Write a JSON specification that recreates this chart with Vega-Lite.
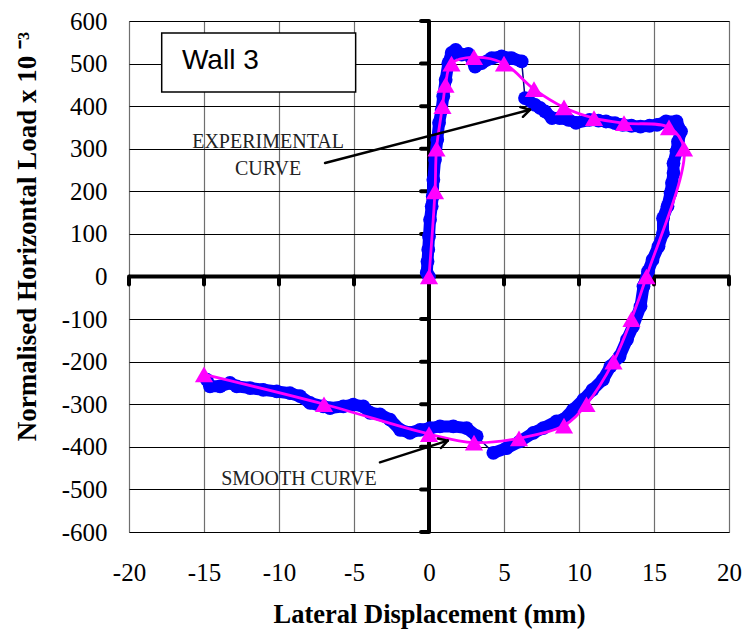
{
  "$schema": "https://vega.github.io/schema/vega-lite/v6.json",
  "width": 600,
  "height": 511,
  "autosize": {"type": "none"},
  "padding": {"left": 129, "top": 21, "right": 16, "bottom": 97},
  "background": "white",
  "config": {"view": {"stroke": "#7a7a7a", "strokeWidth": 1}},
  "datasets": {
    "axisLines": [
      {"x": -20, "x2": 20, "y": 0, "y2": 0},
      {"x": 0, "x2": 0, "y": -600, "y2": 600}
    ],
    "axisTicks": [
      {"x": -20, "x2": -20, "y": 0, "y2": -19},
      {"x": -15, "x2": -15, "y": 0, "y2": -19},
      {"x": -10, "x2": -10, "y": 0, "y2": -19},
      {"x": -5, "x2": -5, "y": 0, "y2": -19},
      {"x": 5, "x2": 5, "y": 0, "y2": -19},
      {"x": 10, "x2": 10, "y": 0, "y2": -19},
      {"x": 15, "x2": 15, "y": 0, "y2": -19},
      {"x": 20, "x2": 20, "y": 0, "y2": -19},
      {"x": 0, "x2": -0.53, "y": 600, "y2": 600},
      {"x": 0, "x2": -0.53, "y": 500, "y2": 500},
      {"x": 0, "x2": -0.53, "y": 400, "y2": 400},
      {"x": 0, "x2": -0.53, "y": 300, "y2": 300},
      {"x": 0, "x2": -0.53, "y": 200, "y2": 200},
      {"x": 0, "x2": -0.53, "y": 100, "y2": 100},
      {"x": 0, "x2": -0.53, "y": -100, "y2": -100},
      {"x": 0, "x2": -0.53, "y": -200, "y2": -200},
      {"x": 0, "x2": -0.53, "y": -300, "y2": -300},
      {"x": 0, "x2": -0.53, "y": -400, "y2": -400},
      {"x": 0, "x2": -0.53, "y": -500, "y2": -500},
      {"x": 0, "x2": -0.53, "y": -600, "y2": -600}
    ],
    "expt": [
      {"i": 1, "seg": "A", "x": 0, "y": 0},
      {"i": 2, "seg": "A", "x": -0.15, "y": 9},
      {"i": 3, "seg": "A", "x": -0.1, "y": 35},
      {"i": 4, "seg": "A", "x": -0.05, "y": 63},
      {"i": 5, "seg": "A", "x": 0, "y": 94},
      {"i": 6, "seg": "A", "x": 0.07, "y": 133},
      {"i": 7, "seg": "A", "x": 0.18, "y": 165},
      {"i": 8, "seg": "A", "x": 0.25, "y": 188},
      {"i": 9, "seg": "A", "x": 0.29, "y": 227},
      {"i": 10, "seg": "A", "x": 0.4, "y": 274},
      {"i": 11, "seg": "A", "x": 0.55, "y": 321},
      {"i": 12, "seg": "A", "x": 0.67, "y": 361},
      {"i": 13, "seg": "A", "x": 0.84, "y": 391},
      {"i": 14, "seg": "A", "x": 0.95, "y": 423},
      {"i": 15, "seg": "A", "x": 1.11, "y": 462},
      {"i": 16, "seg": "A", "x": 1.29, "y": 501},
      {"i": 17, "seg": "A", "x": 1.51, "y": 525},
      {"i": 18, "seg": "A", "x": 1.78, "y": 532},
      {"i": 19, "seg": "A", "x": 2.18, "y": 521},
      {"i": 20, "seg": "A", "x": 2.62, "y": 523},
      {"i": 21, "seg": "A", "x": 3.07, "y": 493},
      {"i": 22, "seg": "A", "x": 3.51, "y": 501},
      {"i": 23, "seg": "A", "x": 4.18, "y": 513},
      {"i": 24, "seg": "A", "x": 4.84, "y": 517},
      {"i": 25, "seg": "A", "x": 5.51, "y": 513},
      {"i": 26, "seg": "A", "x": 6.18, "y": 505},
      {"i": 27, "seg": "B", "x": 6.4, "y": 419},
      {"i": 28, "seg": "B", "x": 7.07, "y": 403},
      {"i": 29, "seg": "B", "x": 7.4, "y": 396},
      {"i": 30, "seg": "B", "x": 7.73, "y": 388},
      {"i": 31, "seg": "B", "x": 8.2, "y": 372},
      {"i": 32, "seg": "B", "x": 8.7, "y": 372},
      {"i": 33, "seg": "B", "x": 9.3, "y": 368},
      {"i": 34, "seg": "B", "x": 9.8, "y": 361},
      {"i": 35, "seg": "B", "x": 10.7, "y": 368},
      {"i": 36, "seg": "B", "x": 11.3, "y": 366},
      {"i": 37, "seg": "B", "x": 11.8, "y": 364},
      {"i": 38, "seg": "B", "x": 12.4, "y": 360},
      {"i": 39, "seg": "B", "x": 12.9, "y": 356},
      {"i": 40, "seg": "B", "x": 13.5, "y": 354},
      {"i": 41, "seg": "B", "x": 14.1, "y": 352},
      {"i": 42, "seg": "B", "x": 14.7, "y": 354},
      {"i": 43, "seg": "B", "x": 15.2, "y": 356},
      {"i": 44, "seg": "B", "x": 15.8, "y": 364},
      {"i": 45, "seg": "B", "x": 16.5, "y": 364},
      {"i": 46, "seg": "B", "x": 16.8, "y": 341},
      {"i": 47, "seg": "B", "x": 16.6, "y": 317},
      {"i": 48, "seg": "B", "x": 16.5, "y": 294},
      {"i": 49, "seg": "B", "x": 16.3, "y": 266},
      {"i": 50, "seg": "B", "x": 16.3, "y": 243},
      {"i": 51, "seg": "B", "x": 16.2, "y": 220},
      {"i": 52, "seg": "B", "x": 16.1, "y": 196},
      {"i": 53, "seg": "B", "x": 15.9, "y": 165},
      {"i": 54, "seg": "B", "x": 15.6, "y": 137},
      {"i": 55, "seg": "B", "x": 15.6, "y": 102},
      {"i": 56, "seg": "B", "x": 15.3, "y": 71},
      {"i": 57, "seg": "B", "x": 14.9, "y": 39},
      {"i": 58, "seg": "B", "x": 14.6, "y": 12},
      {"i": 59, "seg": "B", "x": 14.3, "y": -23},
      {"i": 60, "seg": "B", "x": 14.1, "y": -70},
      {"i": 61, "seg": "B", "x": 13.6, "y": -117},
      {"i": 62, "seg": "B", "x": 13.2, "y": -148},
      {"i": 63, "seg": "B", "x": 12.7, "y": -188},
      {"i": 64, "seg": "B", "x": 12.1, "y": -211},
      {"i": 65, "seg": "B", "x": 11.6, "y": -242},
      {"i": 66, "seg": "B", "x": 10.9, "y": -266},
      {"i": 67, "seg": "B", "x": 10.3, "y": -289},
      {"i": 68, "seg": "B", "x": 9.6, "y": -313},
      {"i": 69, "seg": "B", "x": 8.96, "y": -336},
      {"i": 70, "seg": "B", "x": 8.5, "y": -340},
      {"i": 71, "seg": "B", "x": 7.62, "y": -356},
      {"i": 72, "seg": "B", "x": 6.96, "y": -367},
      {"i": 73, "seg": "B", "x": 6.07, "y": -387},
      {"i": 74, "seg": "B", "x": 5.18, "y": -403},
      {"i": 75, "seg": "B", "x": 4.29, "y": -414},
      {"i": 76, "seg": "C", "x": 3.18, "y": -375},
      {"i": 77, "seg": "C", "x": 2.51, "y": -356},
      {"i": 78, "seg": "C", "x": 1.62, "y": -352},
      {"i": 79, "seg": "C", "x": 0.73, "y": -352},
      {"i": 80, "seg": "C", "x": 0.07, "y": -356},
      {"i": 81, "seg": "C", "x": -0.6, "y": -360},
      {"i": 82, "seg": "C", "x": -1.27, "y": -367},
      {"i": 83, "seg": "C", "x": -1.93, "y": -360},
      {"i": 84, "seg": "C", "x": -2.6, "y": -336},
      {"i": 85, "seg": "C", "x": -3.27, "y": -324},
      {"i": 86, "seg": "C", "x": -3.93, "y": -320},
      {"i": 87, "seg": "C", "x": -4.38, "y": -305},
      {"i": 88, "seg": "C", "x": -5.05, "y": -301},
      {"i": 89, "seg": "C", "x": -5.71, "y": -305},
      {"i": 90, "seg": "C", "x": -6.6, "y": -309},
      {"i": 91, "seg": "C", "x": -7.05, "y": -305},
      {"i": 92, "seg": "C", "x": -7.93, "y": -297},
      {"i": 93, "seg": "C", "x": -8.6, "y": -281},
      {"i": 94, "seg": "C", "x": -9.27, "y": -274},
      {"i": 95, "seg": "C", "x": -10.15, "y": -270},
      {"i": 96, "seg": "C", "x": -11.05, "y": -266},
      {"i": 97, "seg": "C", "x": -11.93, "y": -262},
      {"i": 98, "seg": "C", "x": -12.82, "y": -258},
      {"i": 99, "seg": "C", "x": -13.27, "y": -250},
      {"i": 100, "seg": "C", "x": -13.93, "y": -258},
      {"i": 101, "seg": "C", "x": -14.6, "y": -258},
      {"i": 102, "seg": "C", "x": -14.82, "y": -242}
    ],
    "smooth": [
      {"i": 1, "x": 0, "y": 0},
      {"i": 2, "x": 0.4, "y": 200},
      {"i": 3, "x": 0.5, "y": 300},
      {"i": 4, "x": 0.9, "y": 400},
      {"i": 5, "x": 1.1, "y": 450},
      {"i": 6, "x": 1.5, "y": 500},
      {"i": 7, "x": 3, "y": 515},
      {"i": 8, "x": 5, "y": 500},
      {"i": 9, "x": 7, "y": 440},
      {"i": 10, "x": 9, "y": 397},
      {"i": 11, "x": 11, "y": 372},
      {"i": 12, "x": 13, "y": 360},
      {"i": 13, "x": 16, "y": 350},
      {"i": 14, "x": 17, "y": 300},
      {"i": 15, "x": 14.5, "y": 0},
      {"i": 16, "x": 13.5, "y": -100},
      {"i": 17, "x": 12.3, "y": -200},
      {"i": 18, "x": 10.5, "y": -300},
      {"i": 19, "x": 9, "y": -350},
      {"i": 20, "x": 6, "y": -380},
      {"i": 21, "x": 3, "y": -390},
      {"i": 22, "x": 0, "y": -370},
      {"i": 23, "x": -7, "y": -300},
      {"i": 24, "x": -15, "y": -230}
    ],
    "labelBox": [
      {"x": -17.82, "x2": -4.89, "y": 571.6, "y2": 433}
    ],
    "labelText": [
      {"x": -16.47, "y": 506, "text": "Wall 3"}
    ],
    "notes": [
      {"x": -10.73, "y": 317, "text": "EXPERIMENTAL"},
      {"x": -10.73, "y": 253, "text": "CURVE"},
      {"x": -8.67, "y": -475, "text": "SMOOTH CURVE"}
    ],
    "arrows": [
      {"x": -6.93, "y": 266.4, "x2": 6.73, "y2": 391.5},
      {"x": 6.73, "y": 391.5, "x2": 6.09, "y2": 397.9},
      {"x": 6.73, "y": 391.5, "x2": 6.26, "y2": 375.1},
      {"x": -3.27, "y": -436.4, "x2": 1.25, "y2": -385.4},
      {"x": 1.25, "y": -385.4, "x2": 0.59, "y2": -380.5},
      {"x": 1.25, "y": -385.4, "x2": 0.8, "y2": -402.8}
    ]
  },
  "encoding": {
    "x": {
      "field": "x", "type": "quantitative",
      "scale": {"domain": [-20, 20], "nice": false, "zero": false},
      "axis": {
        "values": [-20, -15, -10, -5, 0, 5, 10, 15, 20],
        "grid": true, "gridColor": "#6f6f6f", "gridWidth": 1.2,
        "domain": false, "ticks": false, "tickSize": 0,
        "labelFont": "Liberation Serif", "labelFontSize": 25, "labelColor": "#000000",
        "labelBaseline": "alphabetic", "labelPadding": 48, "labelFlush": false,
        "labelExpr": "'' + datum.value",
        "title": "Lateral Displacement (mm)",
        "titleFont": "Liberation Serif", "titleFontSize": 26.5, "titleFontWeight": "bold",
        "titleColor": "#000000", "titleX": 300, "titleY": 90,
        "titleAlign": "center", "titleBaseline": "alphabetic"
      }
    },
    "y": {
      "field": "y", "type": "quantitative",
      "scale": {"domain": [-600, 600], "nice": false, "zero": false},
      "axis": {
        "values": [-600, -500, -400, -300, -200, -100, 0, 100, 200, 300, 400, 500, 600],
        "grid": true, "gridColor": "#000000", "gridWidth": 1,
        "domain": false, "ticks": false, "tickSize": 0,
        "labelFont": "Liberation Serif", "labelFontSize": 25, "labelColor": "#000000",
        "labelPadding": 22, "labelFlush": false,
        "labelExpr": "'' + datum.value",
        "title": "Normalised Horizontal Load x 10 ⁻³",
        "titleFont": "Liberation Serif", "titleFontSize": 27, "titleFontWeight": "bold",
        "titleColor": "#000000", "titleAngle": -90, "titleX": -94, "titleY": 215,
        "titleAlign": "center", "titleBaseline": "alphabetic"
      }
    }
  },
  "layer": [
    {
      "data": {"name": "axisLines"},
      "mark": {"type": "rule", "color": "#000000", "strokeWidth": 4},
      "encoding": {"x2": {"field": "x2"}, "y2": {"field": "y2"}}
    },
    {
      "data": {"name": "axisTicks"},
      "mark": {"type": "rule", "color": "#000000", "strokeWidth": 4, "strokeCap": "round"},
      "encoding": {"x2": {"field": "x2"}, "y2": {"field": "y2"}}
    },
    {
      "data": {"name": "labelBox"},
      "mark": {"type": "rect", "fill": "#ffffff", "stroke": "#000000", "strokeWidth": 1.5},
      "encoding": {"x2": {"field": "x2"}, "y2": {"field": "y2"}}
    },
    {
      "data": {"name": "labelText"},
      "mark": {"type": "text", "font": "Liberation Sans", "fontSize": 28, "align": "left", "baseline": "middle", "color": "#000000"},
      "encoding": {"text": {"field": "text"}}
    },
    {
      "data": {"name": "expt"},
      "mark": {"type": "line", "color": "#000080", "strokeWidth": 1.5},
      "encoding": {"order": {"field": "i", "type": "quantitative"}}
    },
    {
      "data": {"name": "expt"},
      "mark": {"type": "line", "color": "#0000ff", "strokeWidth": 12, "strokeCap": "round", "strokeJoin": "round"},
      "encoding": {
        "detail": {"field": "seg"},
        "order": {"field": "i", "type": "quantitative"}
      }
    },
    {
      "data": {"name": "expt"},
      "mark": {"type": "point", "shape": "circle", "filled": true, "color": "#0000ff", "opacity": 1, "size": 190}
    },
    {
      "data": {"name": "smooth"},
      "mark": {"type": "line", "color": "#ff00ff", "strokeWidth": 2.8, "interpolate": "catmull-rom"},
      "encoding": {"order": {"field": "i", "type": "quantitative"}}
    },
    {
      "data": {"name": "smooth"},
      "mark": {"type": "point", "shape": "triangle-up", "filled": true, "color": "#ff00ff", "opacity": 1, "size": 330}
    },
    {
      "data": {"name": "arrows"},
      "mark": {"type": "rule", "color": "#000000", "strokeWidth": 2.5, "strokeCap": "round"},
      "encoding": {"x2": {"field": "x2"}, "y2": {"field": "y2"}}
    },
    {
      "data": {"name": "notes"},
      "mark": {"type": "text", "font": "Liberation Serif", "fontSize": 20, "align": "center", "baseline": "middle", "color": "#222222"},
      "encoding": {"text": {"field": "text"}}
    }
  ]
}
